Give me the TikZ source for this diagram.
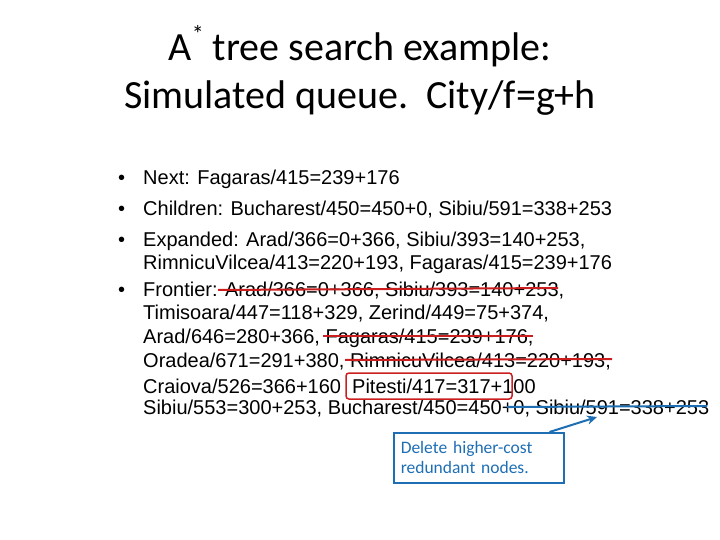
\documentclass[tikz,border=0pt]{standalone}
\usepackage{fontspec}
\setmainfont{Liberation Sans}
\newfontfamily\calib{Carlito}
\usetikzlibrary{arrows.meta}
\definecolor{strikered}{RGB}{204,30,30}
\definecolor{noteblue}{RGB}{30,110,180}
\tikzset{
	line/.style = {anchor=base west, inner sep=0pt, font=\fontsize{20}{24}\selectfont},
	strike/.style = {strikered, line width=2pt},
}
\begin{document}
\begin{tikzpicture}[x=1pt, y=-1pt]
\useasboundingbox (0,0) rectangle (720,540);

\node[font=\calib\fontsize{40}{48}\selectfont, align=center] (title) at (360,70)
	{A\raisebox{0.45em}{\fontsize{24}{24}\selectfont*} tree search example:\\Simulated queue.\ \ City/f=g+h};

% bullets
\foreach \y in {185, 215, 247, 296}
	\node[line] at (118,\y) {\textbullet};

\node[line] (next) at (143,185) {Next: Fagaras/415=239+176};
\node[line] (child) at (143,215) {Children: Bucharest/450=450+0, Sibiu/591=338+253};
\node[line] (exp1) at (143,247) {Expanded: Arad/366=0+366, Sibiu/393=140+253,};
\node[line] (exp2) at (143,269) {RimnicuVilcea/413=220+193, Fagaras/415=239+176};
\node[line] (fr1) at (143,296) {Frontier: Arad/366=0+366, Sibiu/393=140+253,};
\node[line] (fr2) at (143,319) {Timisoara/447=118+329, Zerind/449=75+374,};
\node[line] (fr3) at (143,343) {Arad/646=280+366, Fagaras/415=239+176,};
\node[line] (fr4) at (143,367) {Oradea/671=291+380, RimnicuVilcea/413=220+193,};
\node[line] (fr5) at (143,393) {Craiova/526=366+160\ \ Pitesti/417=317+100};
\node[line] (fr6) at (143,414) {Sibiu/553=300+253, Bucharest/450=450+0, Sibiu/591=338+253};

% crossed out entries
\draw[strike] (218,290) -- (558,288);
\draw[strike] (323,336) -- (533,336);
\draw[strike] (345,360) -- (612,359);
\draw[noteblue, line width=2pt] (507,407) -- (707,406);

\draw[strikered, line width=1.5pt, rounded corners=3pt] (346,373) rectangle (512,399);

% note
\node[draw=noteblue, line width=1.5pt, text=noteblue, align=left, anchor=north west,
	text width=156, minimum height=50, inner xsep=7pt,
	font=\calib\fontsize{17.5}{20}\selectfont] (note) at (393,432)
	{Delete higher-cost\\redundant nodes.};
\coordinate (tgt) at (597,417);
\draw[noteblue, line width=2pt, -{Stealth[length=10pt,width=9pt]}] ([xshift=-15]note.north east) -- (tgt);
\end{tikzpicture}
\end{document}
